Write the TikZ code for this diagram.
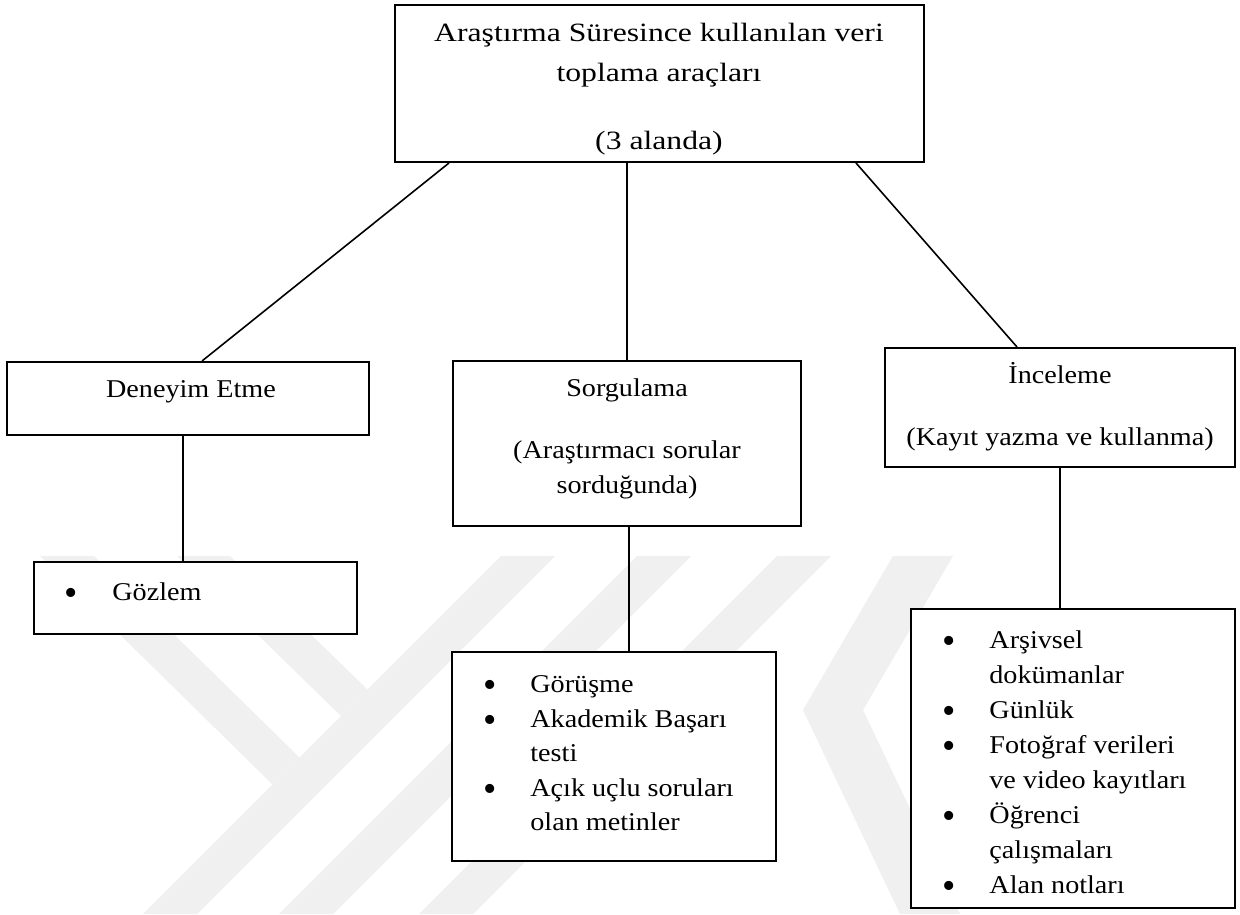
\documentclass[tikz,border=0pt]{standalone}
\usepackage{fontspec}
\setmainfont{Liberation Serif}
\newfontfamily\bodyface{Liberation Serif}[FakeStretch=1.1]
\newfontfamily\titleface{Liberation Serif}[FakeStretch=1.2]
\begin{document}
\begin{tikzpicture}[x=0.5pt,y=-0.5pt,
  box/.style={draw=black, line width=1pt, fill=white, inner sep=0pt},
  link/.style={draw=black, line width=0.8pt},
  txt/.style={inner sep=0pt, font=\bodyface\fontsize{12.8pt}{15pt}\selectfont},
  ttl/.style={inner sep=0pt, anchor=base, font=\titleface\fontsize{13.2pt}{15pt}\selectfont},
  ctr/.style={txt, anchor=base},
  entry/.style={txt, anchor=base west},
  bul/.style={inner sep=0pt, anchor=base, yshift=-2.5pt, font=\fontsize{19pt}{19pt}\selectfont},
  wmband/.style={fill=black!6, draw=none}]

% page
\fill[white] (0,0) rectangle (1240,914);
\useasboundingbox (0,0) rectangle (1240,914);

% faint background emblem (behind the boxes)
\fill[wmband] (40,556) -- (94,556) -- (299.5,757.5) -- (272.5,784.5) -- cycle;
\fill[wmband] (177,556) -- (230,556) -- (367.5,689.5) -- (341,716) -- cycle;
\fill[wmband] (501,556) -- (555,556) -- (197,914) -- (143,914) -- cycle;
\fill[wmband] (637,556) -- (691,556) -- (333,914) -- (279,914) -- cycle;
\fill[wmband] (777,556) -- (831,556) -- (473,914) -- (419,914) -- cycle;
\fill[wmband] (893,556) -- (953,556) -- (863,710) -- (960,914) -- (900,914) -- (803,710) -- cycle;

% boxes
\node[box, minimum width=264.5pt, minimum height=78.5pt] (top) at (659.5,83.5) {};
\node[box, minimum width=181pt, minimum height=36.5pt] (exp) at (188,398.5) {};
\node[box, minimum width=161.5pt, minimum height=36pt] (obs) at (195.5,598) {};
\node[box, minimum width=174pt, minimum height=82.5pt] (ask) at (627,443.5) {};
\node[box, minimum width=162pt, minimum height=104.5pt] (asklist) at (614,756.5) {};
\node[box, minimum width=175pt, minimum height=59.5pt] (exam) at (1060,407.5) {};
\node[box, minimum width=162pt, minimum height=149.5pt] (examlist) at (1073,758.5) {};

% connectors
\draw[link] ([xshift=27.5pt]top.south west) -- ([xshift=98pt]exp.north west);
\draw[link] (ask.north) -- (ask.north |- top.south);
\draw[link] ([xshift=-34.5pt]top.south east) -- ([xshift=-21.5pt]exam.north);
\draw[link] ([xshift=-2.5pt]exp.south) -- ([xshift=-6.25pt]obs.north);
\draw[link] ([xshift=1pt]ask.south) -- ([xshift=7.5pt]asklist.north);
\draw[link] (exam.south) -- ([xshift=-6.5pt]examlist.north);

% main title
\node[ttl] (t1) at (659,42) {Araştırma Süresince kullanılan veri};
\node[ttl] (t2) at (659,82) {toplama araçları};
\node[ttl] (t3) at (659,150) {(3 alanda)};

% experiencing
\node[ctr] (e1) at (191,397) {Deneyim Etme};
\node[bul] (ob0) at (71,600) {•};
\node[entry] (ob1) at (112,600) {Gözlem};

% enquiring
\node[ctr] (a1) at (627,396) {Sorgulama};
\node[ctr] (a2) at (627,458) {(Araştırmacı sorular};
\node[ctr] (a3) at (627,493) {sorduğunda)};
\node[bul] (al0a) at (490,692) {•};
\node[bul] (al0b) at (490,727) {•};
\node[bul] (al0c) at (490,796) {•};
\node[entry] (al1) at (530,692) {Görüşme};
\node[entry] (al2) at (530,727) {Akademik Başarı};
\node[entry] (al3) at (530,761) {testi};
\node[entry] (al4) at (530,796) {Açık uçlu soruları};
\node[entry] (al5) at (530,830) {olan metinler};

% examining
\node[ctr] (x1) at (1060,383) {İnceleme};
\node[ctr] (x2) at (1060,445) {(Kayıt yazma ve kullanma)};
\node[bul] (xl0a) at (949,648) {•};
\node[bul] (xl0b) at (949,718) {•};
\node[bul] (xl0c) at (949,753) {•};
\node[bul] (xl0d) at (949,823) {•};
\node[bul] (xl0e) at (949,893) {•};
\node[entry] (xl1) at (989,648) {Arşivsel};
\node[entry] (xl2) at (989,683) {dokümanlar};
\node[entry] (xl3) at (989,718) {Günlük};
\node[entry] (xl4) at (989,753) {Fotoğraf verileri};
\node[entry] (xl5) at (989,788) {ve video kayıtları};
\node[entry] (xl6) at (989,823) {Öğrenci};
\node[entry] (xl7) at (989,858) {çalışmaları};
\node[entry] (xl8) at (989,893) {Alan notları};
\end{tikzpicture}
\end{document}
